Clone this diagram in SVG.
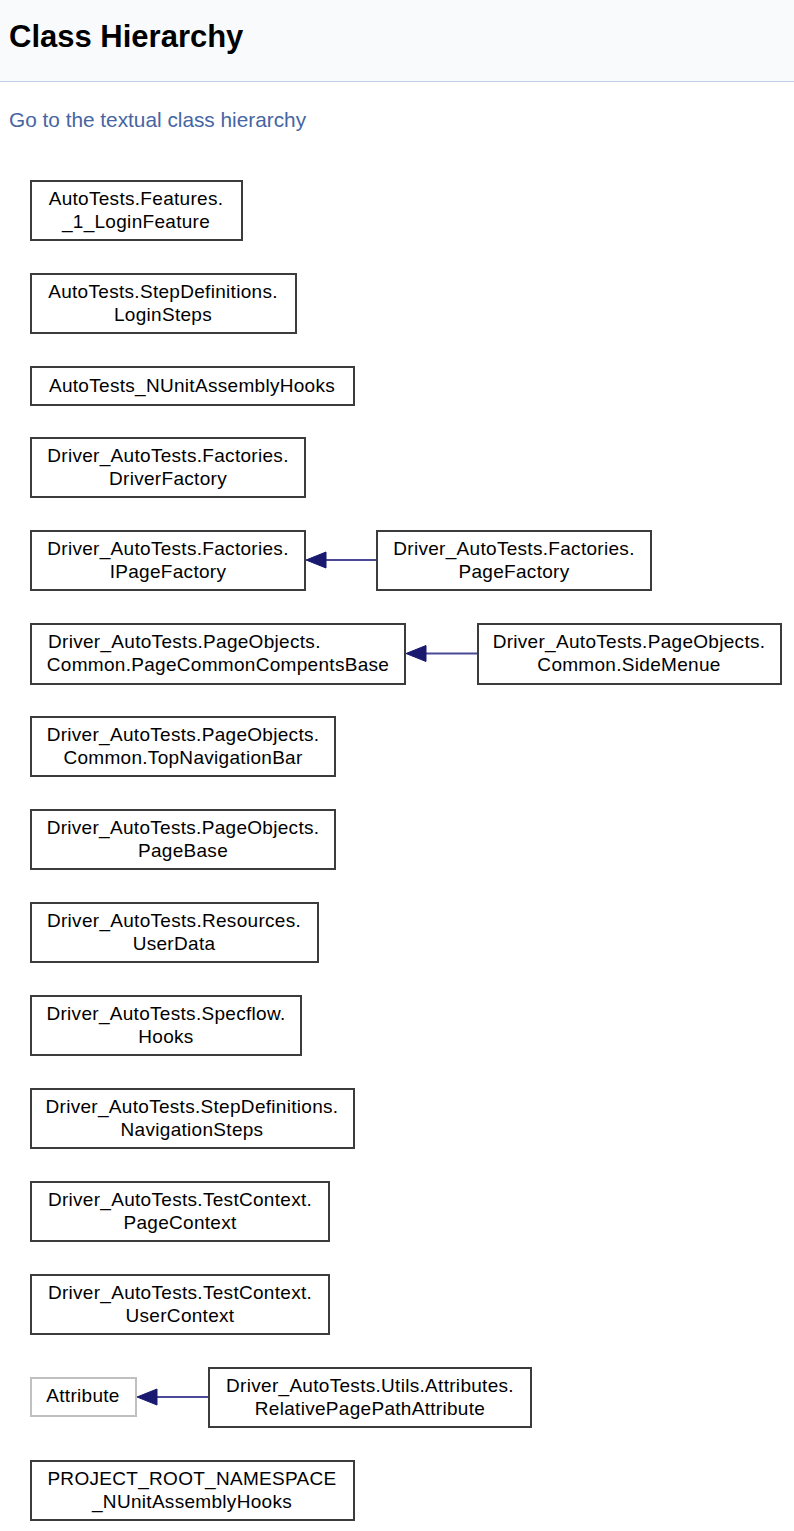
<svg xmlns="http://www.w3.org/2000/svg" width="794" height="1531" viewBox="0 0 794 1531">
<style>
.node rect{fill:#fff;stroke:#3c3c3c;stroke-width:2}
.node.ext rect{stroke:#c0c0c0}
.node text{font-family:"Liberation Sans",Arial,sans-serif;font-size:19px;letter-spacing:0.3px;fill:#000;text-anchor:middle}
.node text.l{text-anchor:start}
.edge{stroke:#4a4a96;stroke-width:2;fill:none}
.head{fill:#191970;stroke:#191970;stroke-width:1}
</style>
<rect x="0" y="0" width="794" height="1531" fill="#fff"/>
<g id="header">
<rect x="0" y="0" width="794" height="81" fill="#f9fafc"/>
<line x1="0" y1="81.5" x2="794" y2="81.5" stroke="#c4cfe5" stroke-width="1"/>
<text x="9" y="47" font-family="'Liberation Sans',Arial,sans-serif" font-size="31" font-weight="bold" fill="#000">Class Hierarchy</text>
<text x="9" y="127" font-family="'Liberation Sans',Arial,sans-serif" font-size="20.8" fill="#4665a2">Go to the textual class hierarchy</text>
</g>
<g id="connectors">
<line class="edge" x1="326" y1="560" x2="376" y2="560"/>
<polygon class="head" points="306,560 326,552 326,568"/>
<line class="edge" x1="426" y1="653.5" x2="477" y2="653.5"/>
<polygon class="head" points="406,653.5 426,645.5 426,661.5"/>
<line class="edge" x1="157" y1="1397" x2="208" y2="1397"/>
<polygon class="head" points="137,1397 157,1389 157,1405"/>
</g>
<g id="n1" class="node"><rect x="31" y="181" width="211" height="59"/><text x="136" y="205">AutoTests.Features.</text><text x="136" y="228">_1_LoginFeature</text></g>
<g id="n2" class="node"><rect x="31" y="274" width="265" height="59"/><text x="163" y="298">AutoTests.StepDefinitions.</text><text x="163" y="321">LoginSteps</text></g>
<g id="n3" class="node"><rect x="31" y="367" width="323" height="38"/><text x="192" y="392">AutoTests_NUnitAssemblyHooks</text></g>
<g id="n4" class="node"><rect x="31" y="438" width="274" height="59"/><text x="168" y="462">Driver_AutoTests.Factories.</text><text x="168" y="485">DriverFactory</text></g>
<g id="n5" class="node"><rect x="31" y="531" width="274" height="59"/><text x="168" y="555">Driver_AutoTests.Factories.</text><text x="168" y="578">IPageFactory</text></g>
<g id="n6" class="node"><rect x="377" y="531" width="274" height="59"/><text x="514" y="555">Driver_AutoTests.Factories.</text><text x="514" y="578">PageFactory</text></g>
<g id="n7" class="node"><rect x="31" y="624" width="374" height="60"/><text class="l" x="48" y="648">Driver_AutoTests.PageObjects.</text><text x="218" y="671">Common.PageCommonCompentsBase</text></g>
<g id="n8" class="node"><rect x="478" y="624" width="303" height="60"/><text x="629" y="648">Driver_AutoTests.PageObjects.</text><text x="629" y="671">Common.SideMenue</text></g>
<g id="n9" class="node"><rect x="31" y="717" width="304" height="59"/><text x="183" y="741">Driver_AutoTests.PageObjects.</text><text x="183" y="764">Common.TopNavigationBar</text></g>
<g id="n10" class="node"><rect x="31" y="810" width="304" height="59"/><text x="183" y="834">Driver_AutoTests.PageObjects.</text><text x="183" y="857">PageBase</text></g>
<g id="n11" class="node"><rect x="31" y="903" width="287" height="59"/><text x="174" y="927">Driver_AutoTests.Resources.</text><text x="174" y="950">UserData</text></g>
<g id="n12" class="node"><rect x="31" y="996" width="270" height="59"/><text x="166" y="1020">Driver_AutoTests.Specflow.</text><text x="166" y="1043">Hooks</text></g>
<g id="n13" class="node"><rect x="31" y="1089" width="323" height="59"/><text x="192" y="1113">Driver_AutoTests.StepDefinitions.</text><text x="192" y="1136">NavigationSteps</text></g>
<g id="n14" class="node"><rect x="31" y="1182" width="298" height="59"/><text x="180" y="1206">Driver_AutoTests.TestContext.</text><text x="180" y="1229">PageContext</text></g>
<g id="n15" class="node"><rect x="31" y="1275" width="298" height="59"/><text x="180" y="1299">Driver_AutoTests.TestContext.</text><text x="180" y="1322">UserContext</text></g>
<g id="n16" class="node ext"><rect x="31" y="1378" width="105" height="38"/><text x="83" y="1402">Attribute</text></g>
<g id="n17" class="node"><rect x="209" y="1368" width="322" height="59"/><text x="370" y="1392">Driver_AutoTests.Utils.Attributes.</text><text x="370" y="1415">RelativePagePathAttribute</text></g>
<g id="n18" class="node"><rect x="31" y="1461" width="323" height="59"/><text x="192" y="1485">PROJECT_ROOT_NAMESPACE</text><text x="192" y="1508">_NUnitAssemblyHooks</text></g>
</svg>
